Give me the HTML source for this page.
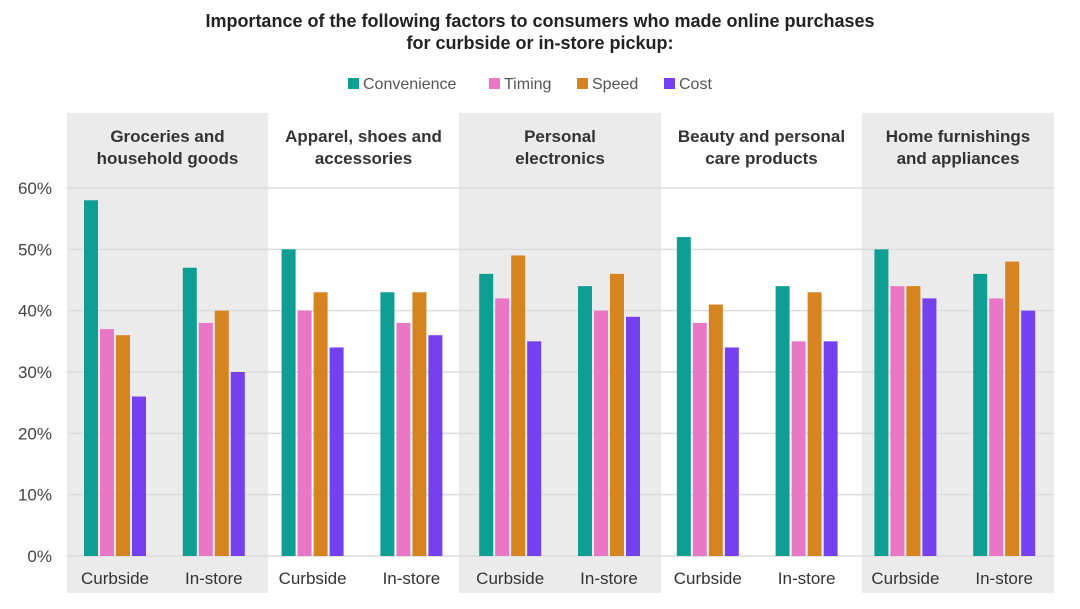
<!DOCTYPE html>
<html><head><meta charset="utf-8"><style>
body{margin:0;width:1080px;height:609px;background:#fff;font-family:"Liberation Sans",sans-serif;overflow:hidden;position:relative}
.t{position:absolute;left:0;width:1080px;text-align:center;font-weight:bold;font-size:18px;color:#222;line-height:22px}
.leg{position:absolute;top:76px;font-size:16px;color:#555}
.sw{display:inline-block;width:11px;height:11px;margin-right:4px;vertical-align:0px}
</style></head><body>
<div class="t" style="top:10px">Importance of the following factors to consumers who made online purchases<br>for curbside or in-store pickup:</div>
<div class="leg" style="left:348px"><span class="sw" style="background:#0e9e94"></span>Convenience</div>
<div class="leg" style="left:489px"><span class="sw" style="background:#ea77c5"></span>Timing</div>
<div class="leg" style="left:577px"><span class="sw" style="background:#d58420"></span>Speed</div>
<div class="leg" style="left:664px"><span class="sw" style="background:#7540f0"></span>Cost</div>
<svg id="c" width="1080" height="609" style="position:absolute;left:0;top:0"></svg>
<script>
const panels=["Groceries and|household goods","Apparel, shoes and|accessories","Personal|electronics","Beauty and personal|care products","Home furnishings|and appliances"];
const groups=["Curbside","In-store","Curbside","In-store","Curbside","In-store","Curbside","In-store","Curbside","In-store"];
const convenience=[58,47,50,43,46,44,52,44,50,46];
const timing=[37,38,40,38,42,40,38,35,44,42];
const speed=[36,40,43,43,49,46,41,43,44,48];
const cost=[26,30,34,36,35,39,34,35,42,40];
const ticks=[0,10,20,30,40,50,60];
const series=[convenience,timing,speed,cost];
const colors=["#0e9e94","#ea77c5","#d58420","#7540f0"];
const names=["convenience","timing","speed","cost"];
const svg=document.getElementById('c');const NS="http://www.w3.org/2000/svg";
function y(v){return 556-v*(556-188)/60;}
function gx(i){return 84+i*98.8;}
function mk(t,a){const e=document.createElementNS(NS,t);for(const k in a)e.setAttribute(k,a[k]);svg.appendChild(e);return e;}
const pb=[67,268,459,661,862,1054];
panels.forEach((p,i)=>{
 if(i%2==0){const r=mk('rect',{x:pb[i],y:113,width:pb[i+1]-pb[i],height:480,fill:'#ebebeb'});
 
 }
 const cx=(pb[i]+pb[i+1])/2;
 p.split('|').forEach((l,j)=>{const t=mk('text',{x:cx,y:142+j*22,'text-anchor':'middle','font-size':17,'font-weight':'bold',fill:'#333'});t.textContent=l;
 
 });
});
ticks.forEach(v=>{const l=mk('line',{x1:67,x2:1054,y1:y(v),y2:y(v),stroke:'#dcdcdc','stroke-width':1.5});


const t=mk('text',{x:52,y:y(v)+6,'text-anchor':'end','font-size':17,fill:'#444'});t.textContent=v+'%';

});
groups.forEach((g,i)=>{
 series.forEach((s,k)=>{const b=mk('rect',{x:gx(i)+k*16,y:y(s[i]),width:14,height:556-y(s[i]),fill:colors[k]});
 
 });
 const t=mk('text',{x:gx(i)+31,y:584,'text-anchor':'middle','font-size':17,fill:'#333'});t.textContent=g;
 
 
});
</script>
</body></html>
